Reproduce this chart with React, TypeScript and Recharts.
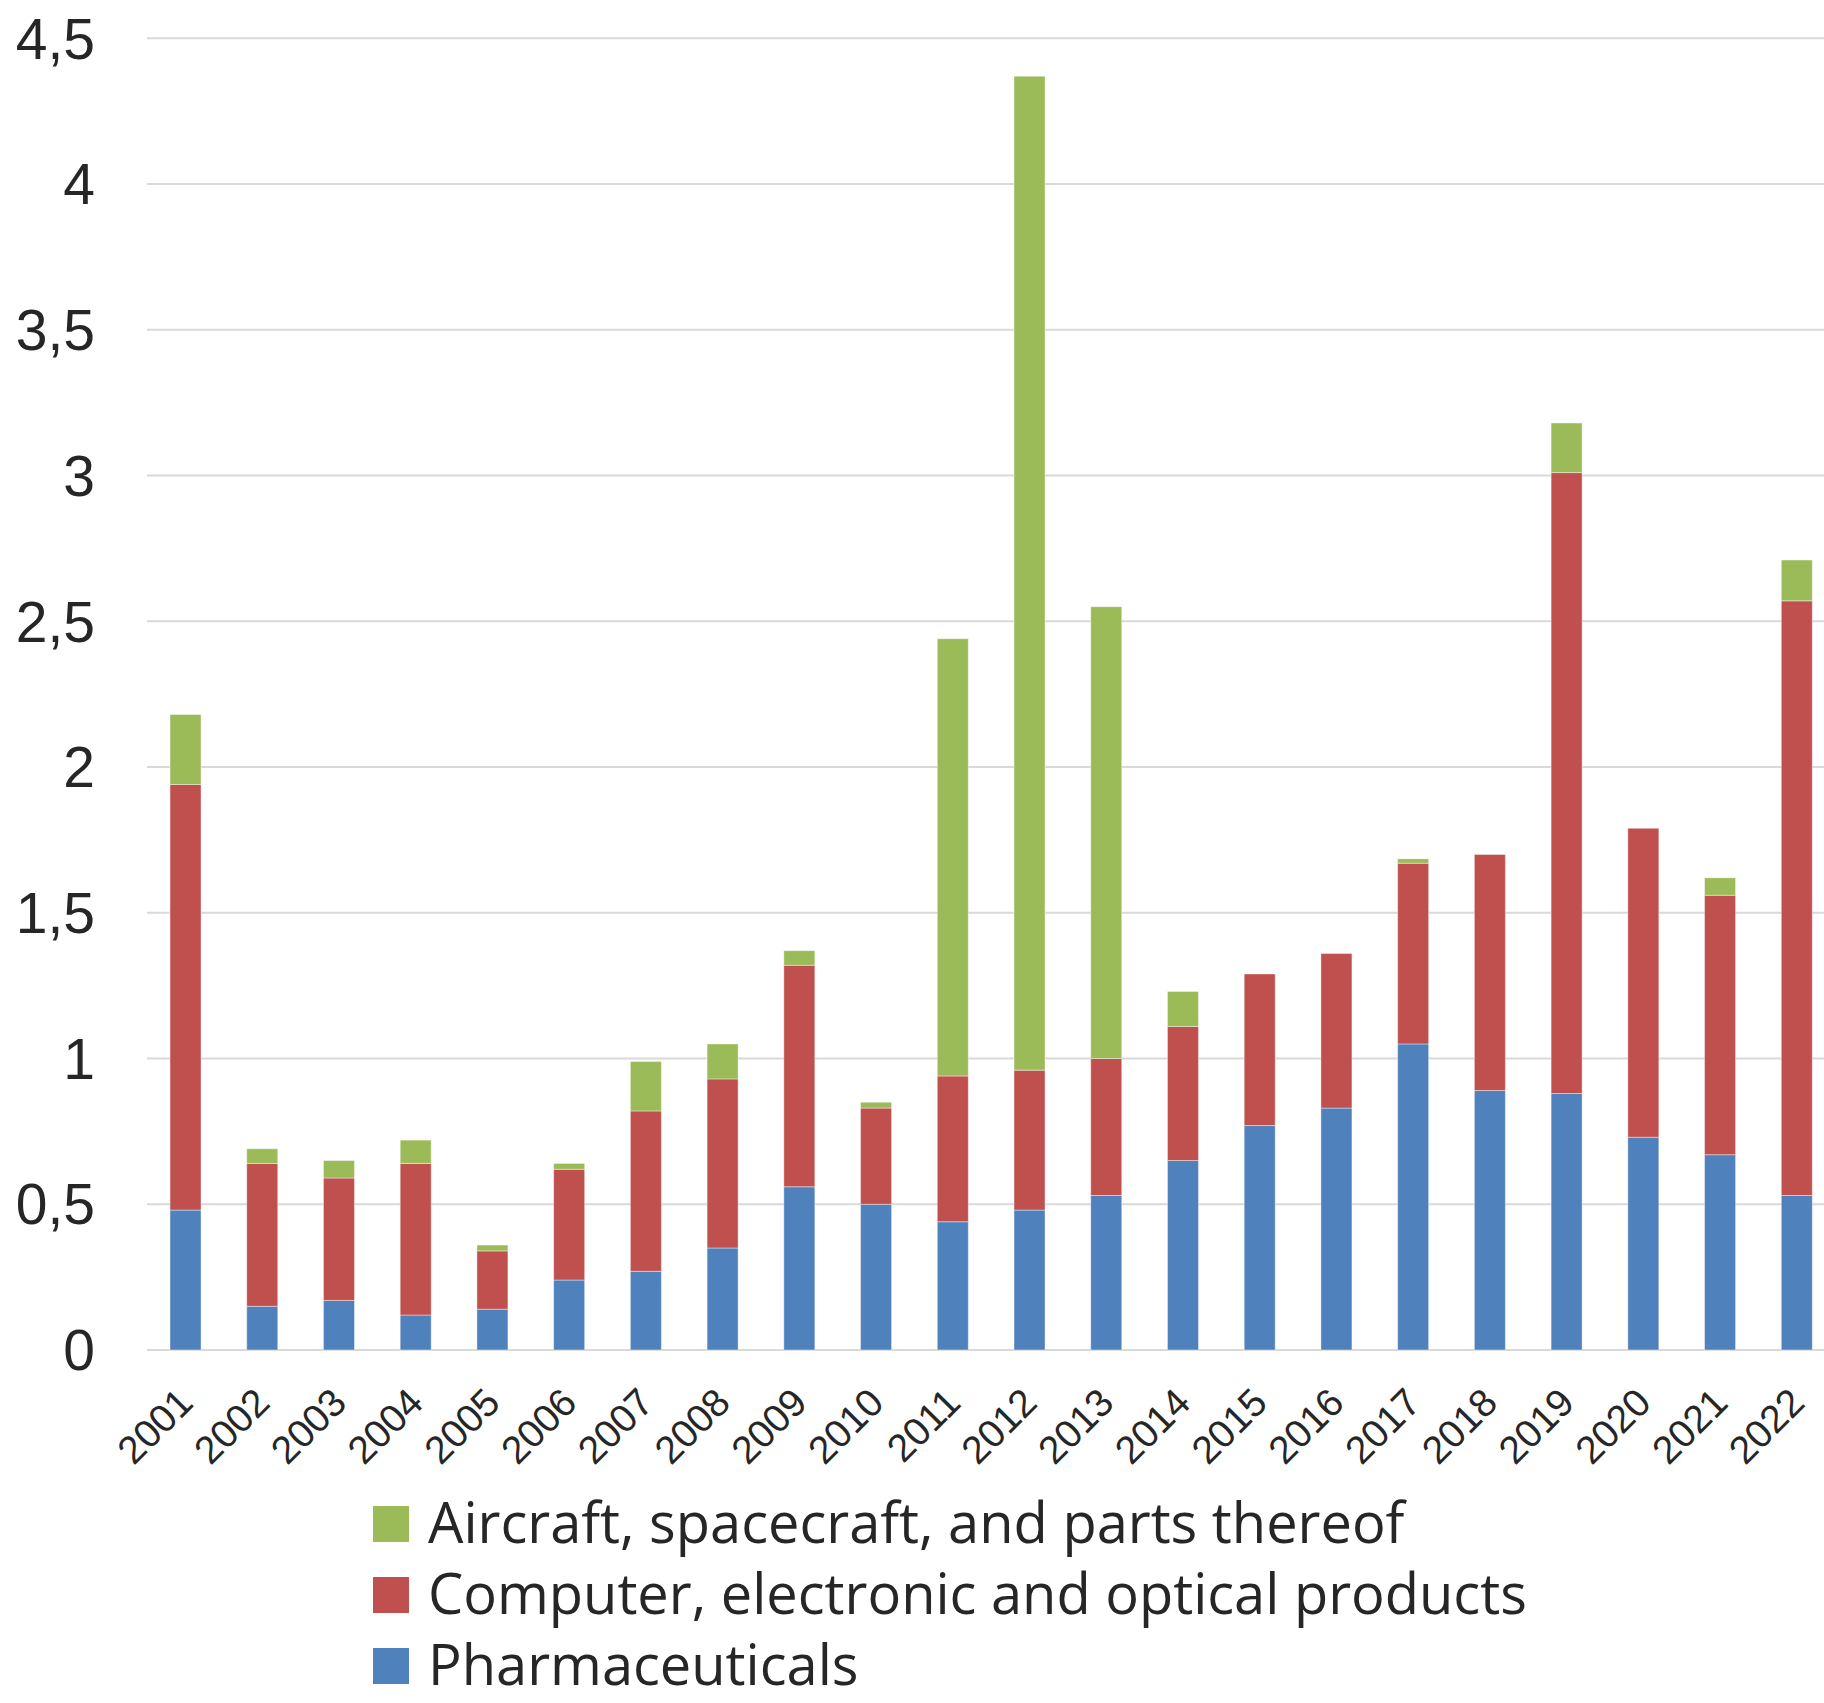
import React from 'react';
import { BarChart, Bar, XAxis, YAxis, CartesianGrid, Legend } from 'recharts';

const years = [
  '2001', '2002', '2003', '2004', '2005', '2006', '2007', '2008', '2009', '2010', '2011',
  '2012', '2013', '2014', '2015', '2016', '2017', '2018', '2019', '2020', '2021', '2022'
];

// stacked from the bottom: pharma, computer, aircraft
const pharmaceuticals = [
  0.48, 0.15, 0.17, 0.12, 0.14, 0.24, 0.27, 0.35, 0.56, 0.5, 0.44,
  0.48, 0.53, 0.65, 0.77, 0.83, 1.05, 0.89, 0.88, 0.73, 0.67, 0.53
];
const computerElectronic = [
  1.46, 0.49, 0.42, 0.52, 0.2, 0.38, 0.55, 0.58, 0.76, 0.33, 0.5,
  0.48, 0.47, 0.46, 0.52, 0.53, 0.62, 0.81, 2.13, 1.06, 0.89, 2.04
];
const aircraft = [
  0.24, 0.05, 0.06, 0.08, 0.02, 0.02, 0.17, 0.12, 0.05, 0.02, 1.5,
  3.41, 1.55, 0.12, 0, 0, 0.015, 0, 0.17, 0, 0.06, 0.14
];

const yTicks = [0, 0.5, 1, 1.5, 2, 2.5, 3, 3.5, 4, 4.5];

const seriesNames = {
  pharma: 'Pharmaceuticals',
  computer: 'Computer, electronic and optical products',
  aircraft: 'Aircraft, spacecraft, and parts thereof'
};
// legend lists the top of the stack first
const legendOrder = [seriesNames.aircraft, seriesNames.computer, seriesNames.pharma];

const data = years.map((year, i) => ({
  year,
  pharma: pharmaceuticals[i],
  computer: computerElectronic[i],
  aircraft: aircraft[i]
}));

const TEXT = '#262626';

const YearTick = (props: any) => {
  const { x, y, payload } = props;
  const px = x - 10;
  const py = y + 35;
  return (
    <text
      x={px}
      y={py}
      dy="0.72em"
      textAnchor="end"
      transform={`rotate(-45, ${px}, ${py})`}
      fontSize={39}
      fontFamily="'Liberation Sans', Arial, sans-serif"
      fill={TEXT}
    >
      {payload.value}
    </text>
  );
};

const LegendBox = (props: any) => {
  const items = [...(props.payload || [])].sort(
    (a: any, b: any) => legendOrder.indexOf(a.value) - legendOrder.indexOf(b.value)
  );
  return (
    <div style={{ fontFamily: "'Open Sans', sans-serif", fontSize: 56, color: TEXT }}>
      {items.map((item: any) => (
        <div key={item.value} style={{ display: 'flex', alignItems: 'flex-start', height: 71 }}>
          <div style={{ width: 36, height: 36, background: item.color, marginTop: 10, marginRight: 19, flex: 'none' }} />
          <span style={{ whiteSpace: 'nowrap', lineHeight: '50px', height: 50 }}>{item.value}</span>
        </div>
      ))}
    </div>
  );
};

export default function App() {
  return (
    <div style={{ position: 'absolute', left: 0, top: 0, width: 1824, height: 1703, overflow: 'hidden', background: '#fff' }}>
      <BarChart
        width={1835}
        height={1703}
        data={data}
        margin={{ top: 38.3, right: 0, bottom: 0, left: 0 }}
        barCategoryGap="30%"
      >
        <CartesianGrid vertical={false} stroke="#d9d9d9" strokeWidth={2} />
        <XAxis
          dataKey="year"
          height={353}
          axisLine={false}
          tickLine={false}
          tickSize={0}
          tickMargin={0}
          interval={0}
          tick={<YearTick />}
        />
        <YAxis
          width={147}
          domain={[0, 4.5]}
          ticks={yTicks}
          axisLine={false}
          tickLine={false}
          tickSize={0}
          tickMargin={52}
          tickFormatter={(v: number) => String(v).replace('.', ',')}
          tick={{ fontSize: 57, fill: TEXT, fontFamily: "'Liberation Sans', Arial, sans-serif" }}
        />
        <Legend
          layout="horizontal"
          verticalAlign="middle"
          align="center"
          content={<LegendBox />}
          wrapperStyle={{ left: 373, top: 1496, width: 'auto' }}
        />
        <Bar dataKey="pharma" name={seriesNames.pharma} stackId="a" fill="#4F81BD" stroke="#ffffff" strokeOpacity={0.4} strokeWidth={1} isAnimationActive={false} />
        <Bar dataKey="computer" name={seriesNames.computer} stackId="a" fill="#C0504D" stroke="#ffffff" strokeOpacity={0.4} strokeWidth={1} isAnimationActive={false} />
        <Bar dataKey="aircraft" name={seriesNames.aircraft} stackId="a" fill="#9BBB59" stroke="#ffffff" strokeOpacity={0.4} strokeWidth={1} isAnimationActive={false} />
      </BarChart>
    </div>
  );
}
